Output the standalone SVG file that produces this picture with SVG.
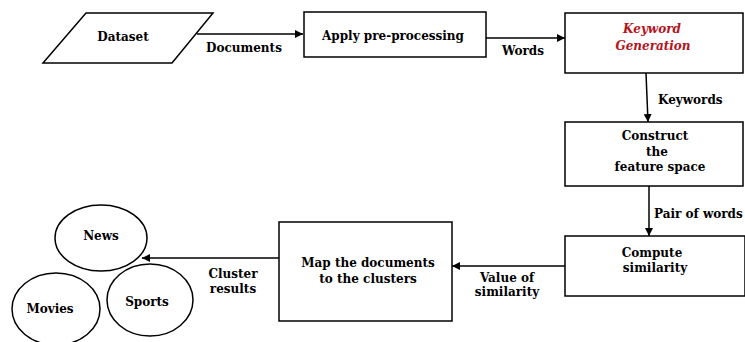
<svg xmlns="http://www.w3.org/2000/svg" width="745" height="342" viewBox="0 0 745 342">
<style>
.box{fill:#fff;stroke:#000;stroke-width:1.5}
.ln{fill:none;stroke:#000;stroke-width:1.5}
text{font-family:"DejaVu Serif","Liberation Serif",serif;font-weight:bold;font-size:12px;fill:#000;text-anchor:middle}
.lbl{text-anchor:start}
.kw{font-style:italic;fill:#b5121b}
</style>
<defs>
<marker id="ah" viewBox="0 0 10 10" refX="10" refY="5" markerWidth="8" markerHeight="8" markerUnits="userSpaceOnUse" orient="auto">
<path d="M0,0 L10,5 L0,10 z" fill="#000"/>
</marker>
</defs>
<rect width="745" height="342" fill="#fff"/>
<g id="connectors">
<line class="ln" x1="197" y1="34" x2="303" y2="34" marker-end="url(#ah)"/>
<line class="ln" x1="486" y1="38" x2="565" y2="38" marker-end="url(#ah)"/>
<line class="ln" x1="646" y1="73" x2="648" y2="122" marker-end="url(#ah)"/>
<line class="ln" x1="649" y1="186" x2="649" y2="236" marker-end="url(#ah)"/>
<line class="ln" x1="565" y1="266" x2="452" y2="266" marker-end="url(#ah)"/>
<line class="ln" x1="279" y1="258" x2="142" y2="258" marker-end="url(#ah)"/>
<text x="244" y="52">Documents</text>
<text x="523" y="55">Words</text>
<text class="lbl" x="658" y="104">Keywords</text>
<text class="lbl" x="654" y="218">Pair of words</text>
<text x="507" y="282">Value of</text>
<text x="507" y="296">similarity</text>
<text x="233" y="278">Cluster</text>
<text x="233" y="293">results</text>
</g>
<g id="dataset">
<polygon class="box" points="86,13 213,13 172,63 43,63"/>
<text x="123" y="41">Dataset</text>
</g>
<g id="preprocessing">
<rect class="box" x="304" y="12" width="182" height="45"/>
<text x="393" y="40">Apply pre-processing</text>
</g>
<g id="keyword-generation">
<rect class="box" x="565" y="13" width="178" height="60"/>
<text class="kw" x="652" y="33">Keyword</text>
<text class="kw" x="653" y="50">Generation</text>
</g>
<g id="feature-space">
<rect class="box" x="565" y="122" width="178" height="64"/>
<text x="655" y="140">Construct</text>
<text x="657" y="156">the</text>
<text x="660" y="171">feature space</text>
</g>
<g id="similarity">
<rect class="box" x="565" y="236" width="180" height="60"/>
<text x="652" y="257">Compute</text>
<text x="655" y="272">similarity</text>
</g>
<g id="map">
<rect class="box" x="279" y="222" width="173" height="99"/>
<text x="368" y="267">Map the documents</text>
<text x="368" y="283">to the clusters</text>
</g>
<g id="news">
<ellipse class="box" cx="101" cy="238" rx="46" ry="33"/>
<text x="101" y="240">News</text>
</g>
<g id="movies">
<ellipse class="box" cx="56" cy="309" rx="44" ry="36"/>
<text x="50" y="313">Movies</text>
</g>
<g id="sports">
<ellipse class="box" cx="150" cy="300" rx="43" ry="36"/>
<text x="147" y="306">Sports</text>
</g>
</svg>
